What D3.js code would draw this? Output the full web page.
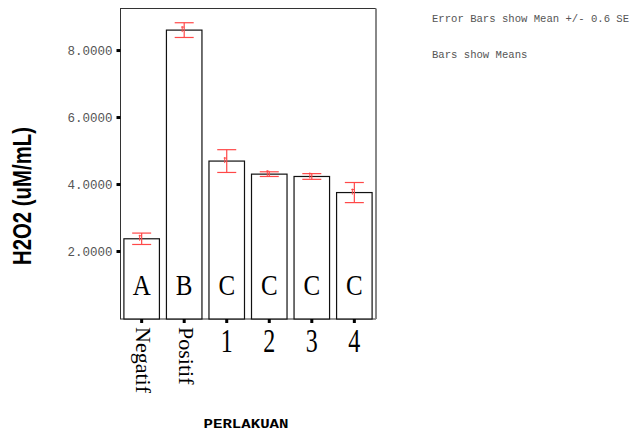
<!DOCTYPE html>
<html>
<head>
<meta charset="utf-8">
<script src="https://cdn.jsdelivr.net/npm/d3@7"></script>
<style>
  html, body { margin: 0; padding: 0; background: #fff; }
  svg { display: block; }
</style>
</head>
<body>
<svg id="chart" width="631" height="432"></svg>
<script>
// ---- data ----
const categories = ["Negatif", "Positif", "1", "2", "3", "4"];
const means = [2.38, 8.61, 4.70, 4.31, 4.24, 3.76];
const errHalf = [0.17, 0.22, 0.34, 0.07, 0.085, 0.30];
const groupLetters = ["A", "B", "C", "C", "C", "C"];
const yTicks = [2, 4, 6, 8];
const notes = ["Error Bars show Mean +/- 0.6 SE", "Bars show Means"];
const yTitle = "H2O2 (uM/mL)";
const xTitle = "PERLAKUAN";

const svg = d3.select("#chart");
const frame = { left: 120.5, right: 375.5, top: 8.5, bottom: 319 };

const x = d3.scaleBand().domain(categories).range([frame.left, frame.right]).paddingInner(0.165).paddingOuter(0.08);
const y = d3.scaleLinear().domain([0, 9.27]).range([318.5, 8]);

// frame
svg.append("rect")
  .attr("x", frame.left).attr("y", frame.top)
  .attr("width", frame.right - frame.left).attr("height", frame.bottom - frame.top)
  .attr("fill", "none").attr("stroke", "#333").attr("stroke-width", 1);
svg.append("line")
  .attr("x1", frame.right + 0.5).attr("x2", frame.right + 0.5)
  .attr("y1", frame.top).attr("y2", frame.bottom)
  .attr("stroke", "#888").attr("stroke-width", 2);

// y axis ticks and labels
const yAxisG = svg.append("g");
yAxisG.selectAll("rect.tick").data(yTicks).join("rect")
  .attr("x", frame.left - 4).attr("y", d => y(d) - 1.5)
  .attr("width", 4).attr("height", 3).attr("fill", "#000");
yAxisG.selectAll("text").data(yTicks).join("text")
  .attr("x", frame.left - 8).attr("y", d => y(d) + 4)
  .attr("text-anchor", "end")
  .attr("font-family", "'Liberation Mono', 'Courier New', monospace")
  .attr("font-size", 12.5).attr("fill", "#555")
  .text(d3.format(".4f"));

// bars
const bars = svg.append("g");
bars.selectAll("rect").data(means).join("rect")
  .attr("x", (d, i) => x(categories[i]))
  .attr("y", d => y(d))
  .attr("width", x.bandwidth())
  .attr("height", d => frame.bottom - y(d))
  .attr("fill", "#fff").attr("stroke", "#111").attr("stroke-width", 1.2);

// group letters
bars.selectAll("text").data(groupLetters).join("text")
  .attr("transform", (d, i) => `translate(${x(categories[i]) + x.bandwidth() / 2},295) scale(1,1.15)`)
  .attr("text-anchor", "middle")
  .attr("font-family", "'Liberation Serif', 'Times New Roman', serif")
  .attr("font-size", 25).attr("fill", "#000")
  .text(d => d);

// error bars
const errColor = "#ff4848";
const eb = svg.append("g").attr("stroke", errColor).attr("stroke-width", 1.2).attr("fill", "none");
means.forEach((m, i) => {
  const cx = x(categories[i]) + x.bandwidth() / 2;
  const hi = y(m + errHalf[i]), lo = y(m - errHalf[i]);
  eb.append("line").attr("x1", cx).attr("x2", cx).attr("y1", hi).attr("y2", lo);
  eb.append("line").attr("x1", cx - 9.5).attr("x2", cx + 9.5).attr("y1", hi).attr("y2", hi);
  eb.append("line").attr("x1", cx - 9.5).attr("x2", cx + 9.5).attr("y1", lo).attr("y2", lo);
  eb.append("line").attr("x1", cx - 3).attr("x2", cx).attr("y1", y(m) - 3).attr("y2", y(m) - 3).attr("stroke-width", 1);
  eb.append("line").attr("x1", cx - 2).attr("x2", cx - 2).attr("y1", y(m) - 4).attr("y2", y(m) + 2).attr("stroke-width", 1);
});

// x ticks
const xt = svg.append("g");
xt.selectAll("rect").data(categories).join("rect")
  .attr("x", d => x(d) + x.bandwidth() / 2 - 1.5).attr("y", frame.bottom)
  .attr("width", 3).attr("height", 4).attr("fill", "#000");
xt.selectAll("text").data(categories).join("text")
  .each(function(d) {
    const cx = x(d) + x.bandwidth() / 2;
    const t = d3.select(this)
      .attr("font-family", "'Liberation Serif', 'Times New Roman', serif")
      .attr("fill", "#000").text(d);
    if (d.length > 1) {
      t.attr("transform", `translate(${cx - 5.5},327) rotate(90)`)
       .attr("font-size", 22).attr("text-anchor", "start");
    } else {
      t.attr("transform", `translate(${cx},351.5) scale(1,1.4)`)
       .attr("font-size", 24).attr("text-anchor", "middle");
    }
  });

// axis titles
svg.append("text")
  .attr("transform", "translate(31,196) rotate(-90)")
  .attr("text-anchor", "middle")
  .attr("font-family", "'Liberation Sans Narrow', 'Arial Narrow', 'Liberation Sans', Arial, sans-serif")
  .attr("font-weight", "bold").attr("font-size", 25)
  .attr("textLength", 138).attr("lengthAdjust", "spacingAndGlyphs")
  .attr("fill", "#000")
  .text(yTitle);

svg.append("text")
  .attr("x", 246).attr("y", 428)
  .attr("text-anchor", "middle")
  .attr("font-family", "'Liberation Mono', 'Courier New', monospace")
  .attr("font-weight", "bold").attr("font-size", 13)
  .attr("textLength", 85).attr("lengthAdjust", "spacingAndGlyphs")
  .attr("fill", "#000")
  .text(xTitle);

// notes
svg.append("g").selectAll("text").data(notes).join("text")
  .attr("x", 432).attr("y", (d, i) => i === 0 ? 22 : 58)
  .attr("font-family", "'Liberation Mono', 'Courier New', monospace")
  .attr("font-size", 10.6).attr("fill", "#555")
  .text(d => d);
</script>
</body>
</html>
